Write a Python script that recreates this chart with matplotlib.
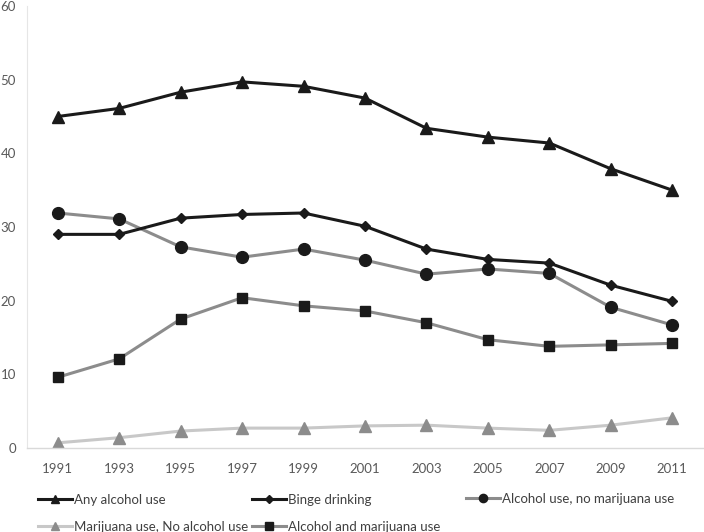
import matplotlib
matplotlib.use("Agg")
import matplotlib.pyplot as plt

plt.rcParams['font.family'] = ['Lato', 'DejaVu Sans']

years = [1991, 1993, 1995, 1997, 1999, 2001, 2003, 2005, 2007, 2009, 2011]
any_alcohol = [45.0, 46.1, 48.3, 49.7, 49.1, 47.5, 43.4, 42.2, 41.4, 37.9, 35.0]
binge = [29.0, 29.0, 31.2, 31.7, 31.9, 30.1, 27.0, 25.6, 25.1, 22.1, 19.9]
alc_no_mj = [31.9, 31.1, 27.3, 25.9, 27.0, 25.5, 23.6, 24.3, 23.7, 19.1, 16.7]
mj_no_alc = [0.7, 1.4, 2.3, 2.7, 2.7, 3.0, 3.1, 2.7, 2.4, 3.1, 4.1]
alc_and_mj = [9.6, 12.1, 17.5, 20.4, 19.3, 18.6, 17.0, 14.7, 13.8, 14.0, 14.2]

fig = plt.figure(figsize=(7.04, 5.32), dpi=100)
ax = fig.add_axes([27/704, (532-448)/532, (703-27)/704, (448-6)/532])

dark = '#1a1a1a'
mid = '#8c8c8c'
light = '#c8c8c8'

h_mj, = ax.plot(years, mj_no_alc, color=light, lw=2.2, marker='^', ms=8,
                mfc=mid, mec=mid, label='Marijuana use, No alcohol use')
h_am, = ax.plot(years, alc_and_mj, color=mid, lw=2.2, marker='s', ms=7.5,
                mfc=dark, mec=dark, label='Alcohol and marijuana use')
h_anm, = ax.plot(years, alc_no_mj, color=mid, lw=2.2, marker='o', ms=8.5,
                 mfc=dark, mec=dark, label='Alcohol use, no marijuana use')
h_b, = ax.plot(years, binge, color=dark, lw=2.2, marker='D', ms=5.5,
               mfc=dark, mec=dark, label='Binge drinking')
h_a, = ax.plot(years, any_alcohol, color=dark, lw=2.2, marker='^', ms=8.5,
               mfc=dark, mec=dark, label='Any alcohol use')

ax.set_xlim(1990, 2012)
ax.set_ylim(0, 60)
ax.set_xticks(years)
ax.set_xticklabels([str(y) for y in years])
ax.set_yticks(range(0, 61, 10))
ax.tick_params(axis='both', length=0, colors='#595959', labelsize=9.5)
ax.tick_params(axis='x', pad=11)
ax.tick_params(axis='y', pad=8)
for s in ['top', 'right']:
    ax.spines[s].set_visible(False)
ax.spines['bottom'].set_color('#d9d9d9')
ax.spines['left'].set_color('#e6e6e6')
ax.spines['bottom'].set_linewidth(1.0)
ax.spines['left'].set_linewidth(0.8)

leg_kw = dict(frameon=False, fontsize=9.5, handlelength=2.55, handletextpad=0.15,
              labelspacing=1.15, borderaxespad=0, borderpad=0, markerscale=0.7,
              loc='center left')
columns = [([h_a, h_mj], 38, 513.5), ([h_b, h_am], 252, 513.5), ([h_anm], 466, 499)]
for hs, xpx, ypx in columns:
    leg = fig.legend(handles=hs, labels=[h.get_label() for h in hs],
                     bbox_to_anchor=(xpx/704, 1-ypx/532), **leg_kw)
    for t in leg.get_texts():
        t.set_color('#404040')

fig.savefig('out.png', dpi=100)
